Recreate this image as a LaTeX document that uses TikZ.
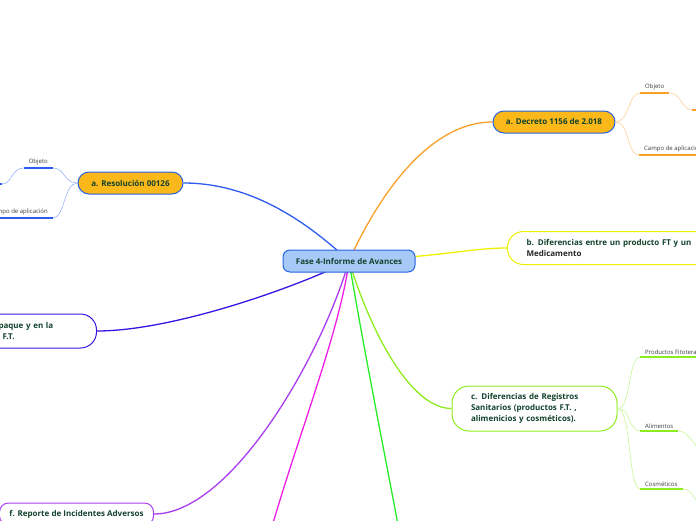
\documentclass[tikz,border=0pt]{standalone}
\usepackage{fontspec}
\setmainfont{Open Sans}
\usepackage{tikz}
\usetikzlibrary{positioning,backgrounds}
\definecolor{azulTema}{RGB}{166,201,247}
\definecolor{azulBorde}{RGB}{38,98,226}
\definecolor{oroTema}{RGB}{250,184,26}
\definecolor{textoTema}{RGB}{18,66,44}
\definecolor{textoSub}{RGB}{60,60,60}
\definecolor{azulRama}{RGB}{46,92,240}
\definecolor{azulClaro}{RGB}{150,180,250}
\definecolor{naranjaRama}{RGB}{248,160,40}
\definecolor{naranjaClaro}{RGB}{252,208,150}
\definecolor{amarilloRama}{RGB}{238,240,0}
\definecolor{indigoRama}{RGB}{60,20,226}
\definecolor{limaRama}{RGB}{140,236,30}
\definecolor{limaClaro}{RGB}{196,246,150}
\definecolor{moradoRama}{RGB}{170,60,240}
\definecolor{magentaRama}{RGB}{240,30,230}
\definecolor{verdeRama}{RGB}{40,236,40}

\begin{document}
\begin{tikzpicture}[x=1pt,y=-1pt,
  tema/.style={rectangle,rounded corners=11pt,minimum height=22pt,draw,line width=1pt,
               font=\fontsize{8}{11}\selectfont\bfseries,text=textoTema},
  subtema/.style={font=\fontsize{6}{7}\selectfont,text=textoSub,inner xsep=5pt,inner ysep=2.5pt},
  rama/.style={line width=1.3pt},
  subrama/.style={line width=0.6pt},
  raya/.style={line width=1.4pt}]

  \useasboundingbox (0,0) rectangle (696,520);
  \clip (0,0) rectangle (696,520);

  % tema central
  \node[tema,draw=azulBorde,fill=azulTema,minimum width=132pt,rounded corners=7pt] (fase) at (349,261) {Fase 4-Informe de Avances};

  % temas principales
  \node[tema,draw=azulBorde,fill=oroTema,minimum width=105pt] (resol) at (130.5,183) {a. Resolución 00126};
  \node[tema,draw=azulBorde,fill=oroTema,minimum width=122pt] (decreto) at (554,122) {a. Decreto 1156 de 2.018};
  \node[tema,draw=amarilloRama,fill=white,anchor=west,align=left,text width=175pt,inner xsep=19pt,
        minimum height=33pt,rounded corners=16pt] (difFT) at (507,248)
        {b. Diferencias entre un producto FT y un\\\textcolor{black!85}{Medicamento}};
  \node[tema,draw=indigoRama,fill=white,anchor=east,align=left,text width=79pt,inner xsep=19pt,
        minimum height=34pt,rounded corners=16pt] (empaque) at (97,331) {paque y en la\\\hspace*{4pt}F.T.};
  \node[tema,draw=limaRama,fill=white,minimum width=165pt,minimum height=45pt,text width=127pt,
        inner xsep=19pt,align=left,rounded corners=17pt] (registros) at (534.5,408.5)
        {c. Diferencias de Registros\\Sanitarios (productos F.T. ,\\alimenicios y cosméticos).};
  \node[tema,draw=moradoRama,fill=white,anchor=west,minimum width=154pt,rounded corners=9pt] (reporte) at (-1,514) {f. Reporte de Incidentes Adversos};

  % subtemas
  \node[subtema,anchor=south east] (resObj) at (53,168) {Objeto};
  \node[subtema,anchor=south east] (resCampo) at (53,218) {Campo de aplicación};
  \node[subtema,anchor=south west] (decObj) at (640,93) {Objeto};
  \node[subtema,anchor=south west] (decCampo) at (639,155) {Campo de aplicación};
  \node[subtema,anchor=south west] (regFito) at (640,357) {Productos Fitotera};
  \node[subtema,anchor=south west] (regAli) at (640,431) {Alimentos};
  \node[subtema,anchor=south west] (regCos) at (640,489) {Cosméticos};

  \coordinate (resObjHijo) at (2,184);
  \coordinate (decObjHijo) at (692,110);
  \coordinate (regAliHijo) at (704,450);
  \coordinate (regCosHijo) at (704,505);
  \coordinate (ramaE) at (271,530);
  \coordinate (ramaG) at (399,530);

  % ramas
  \begin{scope}[on background layer]
    \draw[rama,azulRama] (fase.center) .. controls (305,220) and (250,183) .. (resol.east);
    \draw[rama,naranjaRama] (fase.center) .. controls (374,205) and (425,122) .. (decreto.west);
    \draw[rama,amarilloRama] (fase.center) .. controls (440,257) and (470,248) .. (difFT.west);
    \draw[rama,indigoRama] (fase.center) .. controls (290,290) and (170,331) .. (empaque.east);
    \draw[rama,limaRama] (fase.center) .. controls (370,330) and (410,408.5) .. (registros.west);
    \draw[rama,moradoRama] (fase.center) .. controls (320,360) and (230,514) .. (reporte.east);
    \draw[rama,magentaRama] (fase.center) .. controls (340,330) and (300,430) .. (ramaE);
    \draw[rama,verdeRama] (fase.center) .. controls (364,350) and (382,440) .. (ramaG);
  \end{scope}

  % subramas
  \draw[subrama,azulClaro] (resol.west) .. controls +(-14,0) and +(12,0) .. (resObj.south east);
  \draw[subrama,azulClaro] (resol.west) .. controls +(-14,0) and +(12,0) .. (resCampo.south east);
  \draw[subrama,azulClaro] (resObj.south west) .. controls +(-12,0) and +(10,0) .. (resObjHijo);
  \draw[subrama,naranjaClaro] (decreto.east) .. controls +(14,0) and +(-12,0) .. (decObj.south west);
  \draw[subrama,naranjaClaro] (decreto.east) .. controls +(14,0) and +(-12,0) .. (decCampo.south west);
  \draw[subrama,naranjaClaro] (decObj.south east) .. controls +(12,0) and +(-10,0) .. (decObjHijo);
  \draw[subrama,limaClaro] (registros.east) .. controls +(14,0) and +(-12,0) .. (regFito.south west);
  \draw[subrama,limaClaro] (registros.east) .. controls +(14,0) and +(-12,0) .. (regAli.south west);
  \draw[subrama,limaClaro] (registros.east) .. controls +(14,0) and +(-12,0) .. (regCos.south west);
  \draw[subrama,limaClaro] (regAli.south east) .. controls +(12,0) and +(-10,0) .. (regAliHijo);
  \draw[subrama,limaClaro] (regCos.south east) .. controls +(12,0) and +(-10,0) .. (regCosHijo);

  % rayas de subtemas
  \draw[raya,azulRama] (resObj.south west) -- (resObj.south east);
  \draw[raya,azulRama] (resCampo.south west) -- (resCampo.south east);
  \draw[raya,azulRama] (resObjHijo) -- ++(-12,0);
  \draw[raya,naranjaRama] (decObj.south west) -- (decObj.south east);
  \draw[raya,naranjaRama] (decCampo.south west) -- (decCampo.south east);
  \draw[raya,naranjaRama] (decObjHijo) -- ++(12,0);
  \draw[raya,limaRama] (regFito.south west) -- (regFito.south east);
  \draw[raya,limaRama] (regAli.south west) -- (regAli.south east);
  \draw[raya,limaRama] (regCos.south west) -- (regCos.south east);
\end{tikzpicture}
\end{document}
